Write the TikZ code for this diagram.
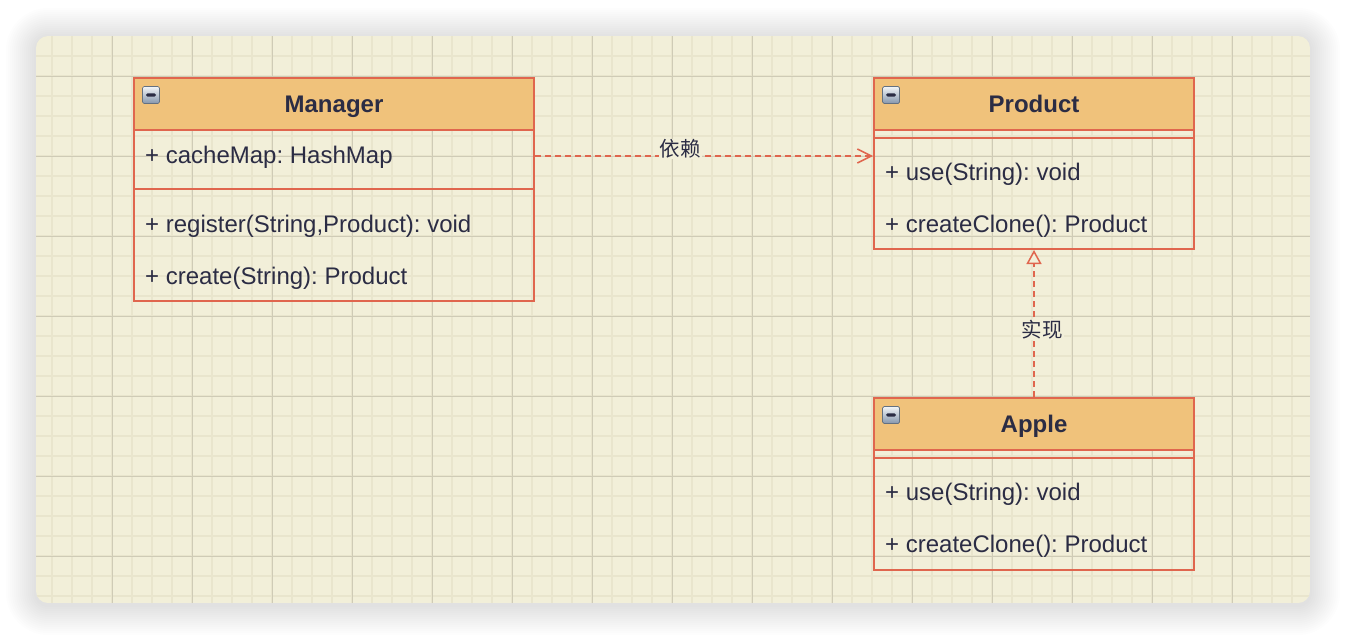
\documentclass[tikz,border=0pt]{standalone}
\usepackage{fontspec}
\setmainfont{Liberation Sans}
\newfontfamily\cjk{Noto Sans CJK SC}
\usetikzlibrary{arrows.meta}
\frenchspacing
\definecolor{bgcream}{HTML}{F2EFD9}
\definecolor{gridminor}{HTML}{E9E5CD}
\definecolor{gridmajor}{HTML}{CFCBB6}
\definecolor{umlred}{HTML}{E0664E}
\definecolor{umlorange}{HTML}{F0C27B}
\definecolor{umltext}{HTML}{2B2C44}
\definecolor{icontop}{HTML}{F2F5F8}
\definecolor{iconbot}{HTML}{8596AC}

\begin{document}
\begin{tikzpicture}[x=1pt,y=-1pt,
    part/.style={draw=umlred,line width=2pt,anchor=north west,inner sep=0pt,minimum width=#1},
    head/.style={part=#1,fill=umlorange,minimum height=52pt,text=umltext,
      font=\fontsize{24}{28}\selectfont\bfseries,text height=17pt,text depth=0pt},
    member/.style={anchor=west,inner sep=0pt,text=umltext,
      font=\fontsize{24}{28}\selectfont,text height=17pt,text depth=0pt},
    icon/.style={draw=iconbot!75!black,line width=.7pt,rounded corners=1.5pt,minimum size=17pt,
      inner sep=0pt,top color=icontop,bottom color=iconbot,
      path picture={\fill[umltext] ([shift={(3.5pt,1.7pt)}]path picture bounding box.west)
        rectangle ([shift={(-3.5pt,-1.5pt)}]path picture bounding box.east);}},
    rel/.style={draw=umlred,line width=2pt,dash pattern=on 6pt off 4pt},
    tag/.style={fill=bgcream,inner sep=1pt,text=umltext,font=\cjk\fontsize{20.5}{24}\selectfont}]

  % canvas
  \fill[white] (0,0) rectangle (1346,640);
  \foreach \i in {1,...,15}
    \fill[black,opacity=.009,rounded corners={(12+2*\i)*1pt}]
      (36-2*\i,36-2*\i+2) rectangle (1310+2*\i,603+2*\i+2);
  \begin{scope}
    \clip[rounded corners=12pt] (36,36) rectangle (1310,603);
    \fill[bgcream] (36,36) rectangle (1310,603);
    \foreach \x in {52,72,...,1300} \draw[gridminor,line width=1.3pt] (\x,36) -- (\x,603);
    \foreach \y in {56,76,...,600} \draw[gridminor,line width=1.3pt] (36,\y) -- (1310,\y);
    \foreach \x in {112,192,...,1300} \draw[gridmajor,line width=1pt] (\x,36) -- (\x,603);
    \foreach \y in {76,156,...,600} \draw[gridmajor,line width=1pt] (36,\y) -- (1310,\y);
  \end{scope}

  % Manager
  \node[head=400pt] (mgrhead) at (133,77) {Manager};
  \node[part=400pt,minimum height=59pt] (mgrattr) at (133,129) {};
  \node[part=400pt,minimum height=112pt] (mgrbody) at (133,188) {};
  \node[icon] (mgricon) at (151,95) {};
  \node[member] (mgrcache) at (145,155) {+ cacheMap: HashMap};
  \node[member] (mgrreg) at (145,224) {+ register(String,Product): void};
  \node[member] (mgrcreate) at (145,276) {+ create(String): Product};

  % Product
  \node[head=320pt] (prodhead) at (873,77) {Product};
  \node[part=320pt,minimum height=8pt] (prodattr) at (873,129) {};
  \node[part=320pt,minimum height=111pt] (prodbody) at (873,137) {};
  \node[icon] (prodicon) at (891,95) {};
  \node[member] (produse) at (885,172) {+ use(String): void};
  \node[member] (prodclone) at (885,224) {+ createClone(): Product};

  % Apple
  \node[head=320pt] (applehead) at (873,397) {Apple};
  \node[part=320pt,minimum height=8pt] (appleattr) at (873,449) {};
  \node[part=320pt,minimum height=112pt] (applebody) at (873,457) {};
  \node[icon] (appleicon) at (891,415) {};
  \node[member] (appleuse) at (885,492) {+ use(String): void};
  \node[member] (appleclone) at (885,544) {+ createClone(): Product};

  % relations
  \coordinate (depstart) at ([yshift=3.5pt]mgrattr.east);
  \draw[rel,-{Straight Barb[length=14pt,width=14pt,line width=1.5pt]}]
    (depstart) -- (depstart -| prodbody.west)
    node[tag,pos=.43,yshift=7pt] (deplabel) {依赖};
  \draw[rel,-{Triangle[length=14pt,width=15pt,fill=bgcream,line width=1.5pt]}]
    (applehead.north) -- (prodbody.south)
    node[tag,pos=.46,xshift=8pt] (reallabel) {实现};
\end{tikzpicture}
\end{document}
